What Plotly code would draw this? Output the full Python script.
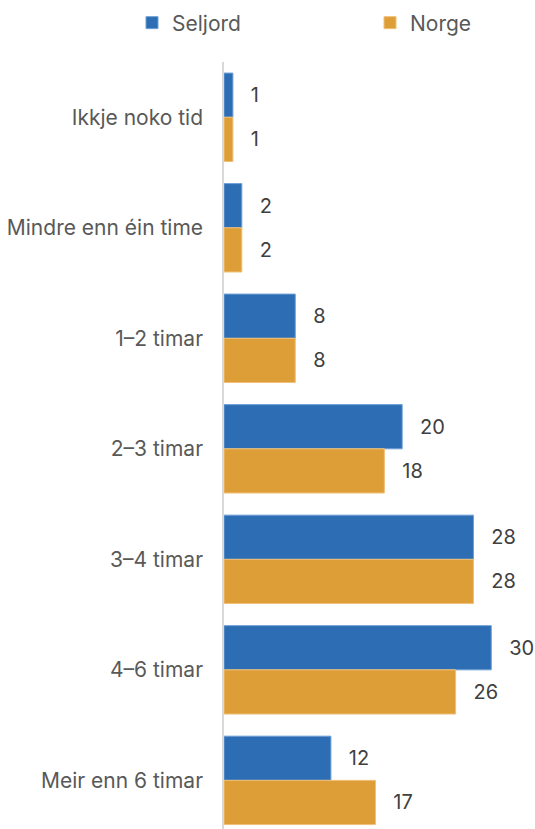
import plotly.graph_objects as go

categories = [
    "Ikkje noko tid",
    "Mindre enn éin time",
    "1–2 timar",
    "2–3 timar",
    "3–4 timar",
    "4–6 timar",
    "Meir enn 6 timar",
]
seljord = [1, 2, 8, 20, 28, 30, 12]
norge = [1, 2, 8, 18, 28, 26, 17]

BLUE = "#2C6DB3"
ORANGE = "#DE9E37"
FONT = "Inter"
PAD = "\u00a0\u00a0\u2009"

fig = go.Figure()
for name, vals, col, edge, leg in [
    ("Seljord", seljord, BLUE, "#6F9FD6", "legend"),
    ("Norge", norge, ORANGE, "#F0C07A", "legend2"),
]:
    fig.add_trace(go.Bar(
        name=name,
        y=categories,
        x=vals,
        orientation="h",
        legend=leg,
        showlegend=True,
        marker=dict(color=col, line=dict(color=edge, width=1)),
        text=vals,
        texttemplate=PAD + "%{x}",
        textposition="outside",
        textfont=dict(family=FONT, size=20, color="#404040"),
        cliponaxis=False,
        constraintext="none",
    ))

legend_style = dict(
    orientation="h",
    xref="container",
    yref="container",
    y=0.997,
    xanchor="left",
    yanchor="top",
    itemwidth=30,
    font=dict(family=FONT, size=21, color="#595959"),
    bgcolor="rgba(0,0,0,0)",
)

fig.update_layout(
    width=535,
    height=829,
    showlegend=True,
    barmode="group",
    bargap=0.2,
    bargroupgap=0,
    plot_bgcolor="white",
    paper_bgcolor="white",
    margin=dict(l=224, r=17, t=62, b=0, autoexpand=False),
    font=dict(family=FONT, size=21, color="#595959"),
    legend=dict(x=132 / 535, **legend_style),
    legend2=dict(x=370 / 535, **legend_style),
    xaxis=dict(
        range=[0, 33],
        showgrid=False,
        zeroline=False,
        showticklabels=False,
        showline=False,
        fixedrange=True,
    ),
    yaxis=dict(
        type="category",
        range=[6.44, -0.5],
        showgrid=False,
        zeroline=False,
        showline=True,
        linecolor="#D9D9D9",
        linewidth=1.5,
        ticks="",
        ticklabelstandoff=15,
        tickfont=dict(family=FONT, size=21, color="#595959"),
    ),
)

fig.write_html("out.html")
